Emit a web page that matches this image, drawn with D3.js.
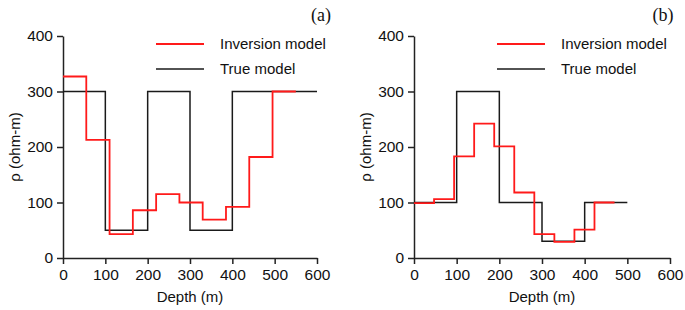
<!DOCTYPE html>
<html>
<head>
<meta charset="utf-8">
<script src="https://cdn.jsdelivr.net/npm/d3@7"></script>
<style>
  body { margin: 0; background: #fff; }
  text { font-family: "Liberation Sans", Arial, sans-serif; }
</style>
</head>
<body>
<div id="chart"></div>
<script>
// Data

var xTicks = [0, 100, 200, 300, 400, 500, 600];
var yTicks = [0, 100, 200, 300, 400];
var seriesNames = ["Inversion model", "True model"];

// panel (a)
var trueDepthA = [0, 100, 200, 300, 400, 600];
var trueRhoA = [300, 50, 300, 50, 300];
var invDepthA = [0, 55, 110, 165, 220, 275, 330, 385, 440, 495, 550];
var invRhoA = [327, 213, 43, 86, 115, 100, 69, 92, 182, 300];

// panel (b)
var trueDepthB = [0, 100, 200, 300, 400, 500];
var trueRhoB = [100, 300, 100, 30, 100];
var invDepthB = [0, 47, 94, 141, 188, 235, 282, 329, 376, 423, 470];
var invRhoB = [99, 106, 183, 242, 201, 118, 43, 29, 51, 100];

var panels = [
  {label: "(a)", left: 63, right: 317, labelX: 321, legX: 156,
   trueD: trueDepthA, trueR: trueRhoA, invD: invDepthA, invR: invRhoA},
  {label: "(b)", left: 414, right: 670, labelX: 663, legX: 497,
   trueD: trueDepthB, trueR: trueRhoB, invD: invDepthB, invR: invRhoB}
];

var w = 685, h = 310;
var plotTop = 36, plotBottom = 258;

var svg = d3.select("#chart")
  .append("svg")
    .attr("width", w)
    .attr("height", h);

// turn layer edges + values into step points
function steps(depths, vals) {
  var pts = [];
  for (var i = 0; i < vals.length; i++) {
    pts.push([depths[i], vals[i]]);
    pts.push([depths[i + 1], vals[i]]);
  }
  return pts;
}

panels.forEach(function(p) {
  var x = d3.scaleLinear().domain([0, 600]).range([p.left, p.right]);
  var y = d3.scaleLinear().domain([0, 400]).range([plotBottom, plotTop]);

  var g = svg.append("g");

  var xAxis = g.append("g")
    .attr("transform", `translate(0,${plotBottom})`)
    .call(d3.axisBottom(x).tickValues(xTicks).tickSize(6).tickSizeOuter(0).tickPadding(5));
  var yAxis = g.append("g")
    .attr("transform", `translate(${p.left},0)`)
    .call(d3.axisLeft(y).tickValues(yTicks).tickSize(6).tickSizeOuter(0).tickPadding(4));

  [xAxis, yAxis].forEach(function(a) {
    a.selectAll("path, line").attr("stroke", "#222").attr("stroke-width", 1.5);
    a.selectAll("text").attr("fill", "#111").style("font-size", "15.5px")
      .style("font-family", "'Liberation Sans', Arial, sans-serif");
  });

  var line = d3.line().x(d => x(d[0])).y(d => y(d[1]));

  g.append("path")
    .datum(steps(p.trueD, p.trueR))
    .attr("d", line)
    .attr("fill", "none")
    .attr("stroke", "#1a1a1a")
    .attr("stroke-width", 1.5);

  g.append("path")
    .datum(steps(p.invD, p.invR))
    .attr("d", line)
    .attr("fill", "none")
    .attr("stroke", "#ff1a1a")
    .attr("stroke-width", 1.8);

  // axis titles
  g.append("text")
    .attr("x", (p.left + p.right) / 2)
    .attr("y", 302)
    .attr("text-anchor", "middle")
    .style("font-size", "15px")
    .attr("fill", "#111")
    .text("Depth (m)");

  g.append("text")
    .attr("transform", `translate(${p.left - 43},${(plotTop + plotBottom) / 2}) rotate(-90)`)
    .attr("text-anchor", "middle")
    .style("font-size", "15px")
    .attr("fill", "#111")
    .text("ρ (ohm-m)");

  g.append("text")
    .attr("x", p.labelX)
    .attr("y", 21)
    .attr("text-anchor", "middle")
    .style("font-family", "'Liberation Serif', 'Times New Roman', serif")
    .style("font-size", "18px")
    .attr("fill", "#111")
    .text(p.label);

  // legend
  var legColors = ["#ff1a1a", "#1a1a1a"];
  seriesNames.forEach(function(name, i) {
    var ly = 44 + i * 25;
    g.append("line")
      .attr("x1", p.legX).attr("x2", p.legX + 48)
      .attr("y1", ly).attr("y2", ly)
      .attr("stroke", legColors[i])
      .attr("stroke-width", i == 0 ? 1.8 : 1.5);
    g.append("text")
      .attr("x", p.legX + 64)
      .attr("y", ly + 5)
      .style("font-size", "15px")
      .attr("fill", "#111")
      .text(name);
  });
});
</script>
</body>
</html>
